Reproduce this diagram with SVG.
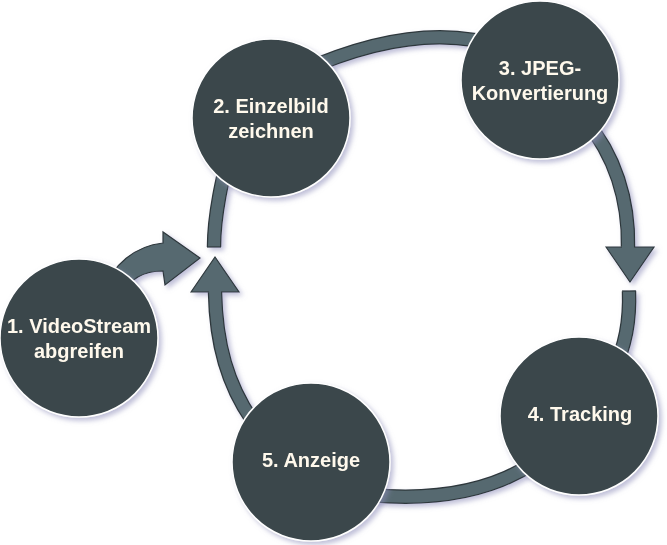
<svg xmlns="http://www.w3.org/2000/svg" width="667" height="545" viewBox="0 0 667 545">
<defs>
<filter id="sh" x="-20%" y="-20%" width="140%" height="140%">
<feDropShadow dx="3" dy="3" stdDeviation="2.5" flood-color="#8a8ab8" flood-opacity="0.55"/>
</filter>
<style>
.node circle{fill:#3b474c;stroke:#ffffff;stroke-width:1.5}
.node text{font-family:"Liberation Sans",Arial,sans-serif;font-weight:bold;font-size:20px;fill:#fff9ec;text-anchor:middle}
.bd{fill:none;stroke:#2e383c;stroke-width:14.5}
.bl{fill:none;stroke:#56696f;stroke-width:12}
.hd{fill:#56696f;stroke:#2e383c;stroke-width:1.2;stroke-linejoin:miter}
.end{stroke:#2e383c;stroke-width:1.2}
</style>
</defs>
<rect width="667" height="545" fill="#ffffff"/>
<g id="connectors" filter="url(#sh)">
<path class="bd" d="M300,72 Q420,18 505,48"/>
<path class="bl" d="M300,72 Q420,18 505,48"/>
<path class="bd" d="M585,120 C615,155 629,200 628,247"/>
<polygon class="hd" points="606,247 630,282 654,247"/>
<path class="bl" d="M585,120 C615,155 629,200 628,248"/>
<path class="bd" d="M629,291 C630,320 626,345 612,375"/>
<path class="bl" d="M629,291 C630,320 626,345 612,375"/>
<line class="end" x1="622" y1="291" x2="636" y2="291"/>
<path class="bd" d="M545,455 Q480,505 370,495"/>
<path class="bl" d="M545,455 Q480,505 370,495"/>
<path class="bd" d="M252,420 C228,385 216,345 215,292"/>
<polygon class="hd" points="191,292 215,257 239,292"/>
<path class="bl" d="M252,420 C228,385 216,345 215,291"/>
<path class="bd" d="M232,140 C222,180 214,215 214,247"/>
<path class="bl" d="M232,140 C222,180 214,215 214,247"/>
<line class="end" x1="207" y1="247" x2="221" y2="247"/>
<path class="hd" d="M105,290 C112,265 135,246 163,243 L163,232 L200,258 L165,285 L163,271 C145,271 130,278 122,295 Z"/>
</g>
<g id="n1" class="node" filter="url(#sh)">
<circle cx="79" cy="338" r="79"/>
<text x="79" y="333">1. VideoStream</text>
<text x="79" y="358">abgreifen</text>
</g>
<g id="n2" class="node" filter="url(#sh)">
<circle cx="271" cy="118" r="79"/>
<text x="271" y="113">2. Einzelbild</text>
<text x="271" y="138">zeichnen</text>
</g>
<g id="n3" class="node" filter="url(#sh)">
<circle cx="540" cy="80" r="79"/>
<text x="540" y="75">3. JPEG-</text>
<text x="540" y="100">Konvertierung</text>
</g>
<g id="n4" class="node" filter="url(#sh)">
<circle cx="579" cy="416" r="79"/>
<text x="580" y="421">4. Tracking</text>
</g>
<g id="n5" class="node" filter="url(#sh)">
<circle cx="311" cy="462" r="79"/>
<text x="311" y="467">5. Anzeige</text>
</g>
</svg>
